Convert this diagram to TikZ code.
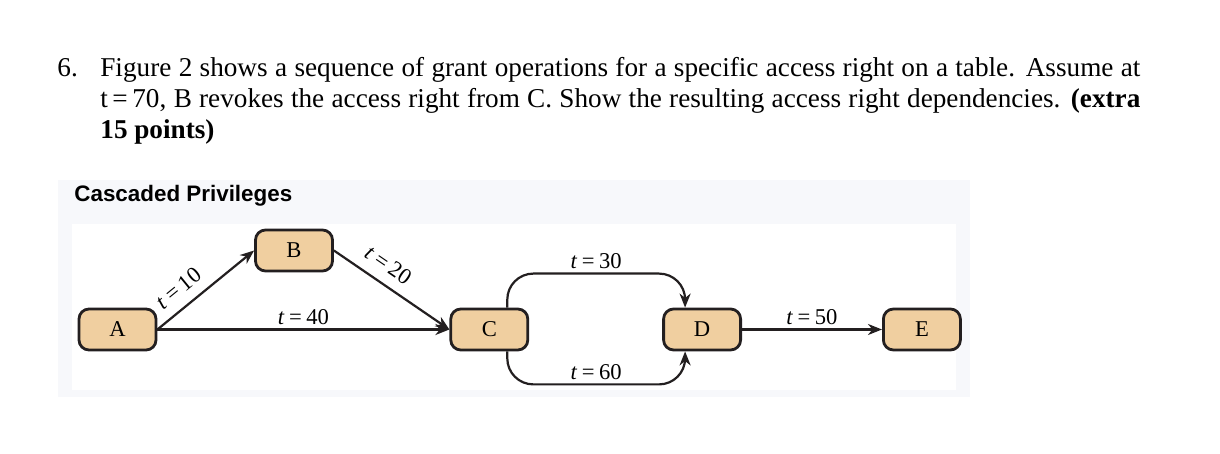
\documentclass[tikz,border=0pt]{standalone}
\usepackage{fontspec}
\setmainfont{Liberation Serif}
\newfontfamily\headfont{Liberation Sans}
\usepackage{xcolor}
\definecolor{privtan}{HTML}{F0CFA0}
\definecolor{panelgray}{HTML}{F7F8FB}
\definecolor{inkdark}{HTML}{231F20}
\usetikzlibrary{positioning, arrows.meta}
\newcommand{\tval}[1]{\textit{t}\kern0.2em=\kern0.2em#1}

\begin{document}
\begin{tikzpicture}[
  x=0.5pt, y=0.5pt,
  font=\fontsize{11.3}{13}\selectfont,
  priv/.style={draw=inkdark, fill=privtan, rounded corners=5pt, line width=1.4pt,
               minimum width=38.5pt, minimum height=20.5pt, inner sep=0pt},
  grant/.style={draw=inkdark, line width=1.1pt, -{Stealth[length=7pt, width=5.5pt, inset=2.2pt]}},
  tlabel/.style={inner sep=2pt}
]
\useasboundingbox (0,0) rectangle (1220,454);
\fill[panelgray] (58,57) rectangle (970,274);
\fill[white] (72,64) rectangle (956,230);

\node[anchor=base west, inner sep=0pt, font=\fontsize{13.6}{15.5}\selectfont] (question) at (57,377)
  {\makebox[21.5pt][l]{6.}\parbox[t]{520pt}{Figure 2 shows a sequence of grant operations for a specific access right on a table. Assume at\linebreak
   t\,=\,70, B revokes the access right from C. Show the resulting access right dependencies. \textbf{(extra\linebreak
   15 points)}}};
\node[anchor=west, inner sep=0pt, font=\headfont\bfseries\fontsize{11.2}{13}\selectfont] (title) at (74,258) {Cascaded Privileges};

\node[priv] (A) at (117.5,124.5) {A};
\node[priv] (B) at (294,203.5) {B};
\node[priv, right=146pt of A] (C) {C};
\node[priv, right=66.5pt of C] (D) {D};
\node[priv, right=70pt of D] (E) {E};

\draw[grant] (A.east) -- node[tlabel, sloped, above=3pt, pos=0.34] {\tval{10}} (B.west);
\draw[grant] (B.east) -- node[tlabel, sloped, above=3pt, pos=0.38] {\tval{20}} (C.west);
\draw[grant] (A) -- node[tlabel, above] {\tval{40}} (C);
\draw[grant, rounded corners=13pt] ([xshift=9pt]C.north) -- ++(0,17pt)
  -| node[tlabel, above, pos=0.25] {\tval{30}} ([xshift=-8.5pt]D.north);
\draw[grant, rounded corners=13pt] ([xshift=9pt]C.south) -- ++(0,-16.5pt)
  -| node[tlabel, above, pos=0.25] {\tval{60}} ([xshift=-8.5pt]D.south);
\draw[grant] (D) -- node[tlabel, above] {\tval{50}} (E);
\end{tikzpicture}
\end{document}
